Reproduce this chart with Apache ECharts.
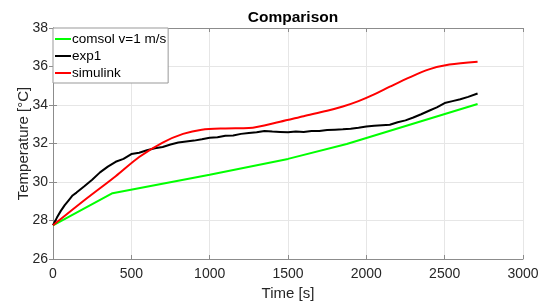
<!DOCTYPE html>
<html>
<head>
<meta charset="utf-8">
<script src="https://cdn.jsdelivr.net/npm/echarts@6/dist/echarts.min.js"></script>
<style>
  html, body { margin: 0; padding: 0; background: #fff; }
  #chart { width: 547px; height: 301px; }
</style>
</head>
<body>
<div id="chart"></div>
<script>
// values: [time s, temperature °C]
var comsol = [[0, 27.75], [380, 29.42], [1000, 30.38], [1500, 31.2], [1875, 31.97], [2710, 34.05]];

var exp1 = [
  [0, 27.75], [25, 28.15], [50, 28.5], [75, 28.8], [100, 29.05], [125, 29.3], [150, 29.45], [200, 29.78],
  [250, 30.12], [300, 30.5], [350, 30.8], [400, 31.05], [450, 31.2], [500, 31.45], [550, 31.52],
  [600, 31.65], [650, 31.75], [700, 31.82], [750, 31.95], [800, 32.05], [850, 32.1], [900, 32.15],
  [950, 32.22], [1000, 32.3], [1050, 32.32], [1100, 32.4], [1150, 32.42], [1200, 32.5],
  [1250, 32.55], [1300, 32.58], [1350, 32.65], [1400, 32.62], [1450, 32.6], [1500, 32.58],
  [1550, 32.62], [1600, 32.6], [1650, 32.65], [1700, 32.65], [1750, 32.7], [1800, 32.72],
  [1850, 32.74], [1900, 32.77], [1950, 32.82], [2000, 32.88], [2050, 32.92], [2100, 32.95],
  [2150, 32.97], [2200, 33.1], [2250, 33.2], [2300, 33.35], [2350, 33.52], [2400, 33.7],
  [2450, 33.88], [2500, 34.1], [2550, 34.2], [2600, 34.3], [2650, 34.42], [2710, 34.6]
];

var simulink = [
  [0, 27.75], [200, 29.05], [400, 30.3], [550, 31.3], [700, 32.05], [830, 32.5], [950, 32.72],
  [1100, 32.78], [1250, 32.8], [1450, 33.13], [1600, 33.42], [1750, 33.7], [1850, 33.92],
  [1950, 34.2], [2050, 34.55], [2150, 34.95], [2280, 35.45], [2400, 35.85], [2530, 36.1], [2710, 36.25]
];

var xTicks = { min: 0, max: 3000, interval: 500 };
var yTicks = { min: 26, max: 38, interval: 2 };

var txt = '#262626';
var axisCol = '#8c8c8c';
var font = 'Liberation Sans, Arial, sans-serif';

function boxAxis(extra) {
  var base = {
    type: 'value',
    axisLine: { show: true, lineStyle: { color: axisCol, width: 1 } },
    axisTick: { show: true, inside: true, length: 4, lineStyle: { color: axisCol } },
    axisLabel: { show: false },
    splitLine: { show: false }
  };
  return Object.assign(base, extra);
}

var chart = echarts.init(document.getElementById('chart'));
chart.setOption({
  animation: false,
  title: {
    text: 'Comparison', left: 288, top: 5, textAlign: 'center',
    textStyle: { fontFamily: font, fontSize: 15.5, fontWeight: 'bold', color: '#000' }
  },
  legend: {
    orient: 'vertical', left: 53, top: 28,
    padding: [4, 2, 3, 2], itemGap: 3, itemWidth: 16, itemHeight: 2,
    icon: 'rect',
    backgroundColor: '#fff', borderColor: '#999', borderWidth: 1,
    textStyle: { fontFamily: font, fontSize: 13.5, color: '#000', padding: [0, 0, 0, -4] },
    data: ['comsol v=1 m/s', 'exp1', 'simulink']
  },
  grid: { left: 53, right: 24, top: 28, bottom: 42, outerBoundsMode: 'none' },
  xAxis: [
    boxAxis({
      min: xTicks.min, max: xTicks.max, interval: xTicks.interval,
      name: 'Time [s]', nameLocation: 'middle', nameGap: 27, nameMoveOverlap: false,
      nameTextStyle: { fontFamily: font, fontSize: 15, color: txt },
      axisLabel: { show: true, fontFamily: font, fontSize: 14, color: txt, margin: 8,
        formatter: function (v) { return String(v); } },
      splitLine: { show: true, lineStyle: { color: '#e6e6e6', width: 1 } }
    }),
    boxAxis({ min: xTicks.min, max: xTicks.max, interval: xTicks.interval, position: 'top' })
  ],
  yAxis: [
    boxAxis({
      min: yTicks.min, max: yTicks.max, interval: yTicks.interval,
      name: 'Temperature [°C]', nameLocation: 'middle', nameGap: 22, nameMoveOverlap: false,
      nameTextStyle: { fontFamily: font, fontSize: 15, color: txt },
      axisLabel: { show: true, fontFamily: font, fontSize: 14, color: txt, margin: 5 },
      splitLine: { show: true, lineStyle: { color: '#e6e6e6', width: 1 } }
    }),
    boxAxis({ min: yTicks.min, max: yTicks.max, interval: yTicks.interval, position: 'right' })
  ],
  series: [
    { name: 'comsol v=1 m/s', type: 'line', data: comsol, showSymbol: false,
      itemStyle: { color: '#00ff00' }, lineStyle: { color: '#00ff00', width: 2 } },
    { name: 'exp1', type: 'line', data: exp1, showSymbol: false,
      itemStyle: { color: '#000' }, lineStyle: { color: '#000', width: 2 } },
    { name: 'simulink', type: 'line', data: simulink, showSymbol: false, smooth: 0.3,
      itemStyle: { color: '#ff0000' }, lineStyle: { color: '#ff0000', width: 2 } }
  ]
});
</script>
</body>
</html>
